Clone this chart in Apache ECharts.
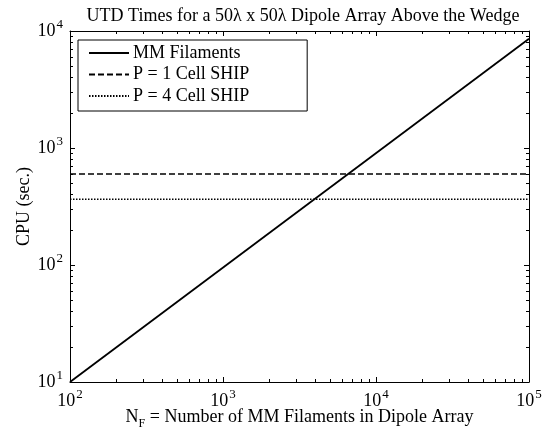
<!DOCTYPE html>
<html>
<head>
<meta charset="utf-8">
<script src="https://cdn.jsdelivr.net/npm/echarts@6/dist/echarts.min.js"></script>
<style>
  html, body { margin: 0; padding: 0; background: #fff; }
  #chart { width: 542px; height: 437px; }
</style>
</head>
<body>
<div id="chart"></div>
<script>
// 数据
const filamentsX = [100, 100000]
const mmFilaments = [10, 8600]
const ship1Cell = [600, 600]
const ship4Cell = [365, 365]
const seriesNames = ['MM Filaments', 'P = 1 Cell SHIP', 'P = 4 Cell SHIP']
const xDecades = [100, 1000, 10000, 100000]
const yDecades = [10, 100, 1000, 10000]

// 对数轴的次刻度 2..9
const minorTicks = (decades) => {
  const out = []
  for (let i = 0; i < decades.length - 1; i++) {
    for (let k = 2; k <= 9; k++) out.push(decades[i] * k)
  }
  return out
}
const xMinor = minorTicks(xDecades)
const yMinor = minorTicks(yDecades)

const font = 'Liberation Serif'
const black = '#000'

const supLabel = {
  color: black,
  fontFamily: font,
  fontSize: 18,
  formatter: (val) => `10{sup|${Math.round(Math.log10(val))}}`,
  rich: {
    sup: {fontFamily: font, fontSize: 13, color: black, verticalAlign: 'bottom', padding: [0, 0, 13, 1]}
  }
}

const logAxis = (extra) => Object.assign({
  type: 'log',
  logBase: 10,
  splitLine: {show: false},
  axisLine: {show: true, onZero: false, lineStyle: {color: black, width: 1}},
  axisTick: {show: true, inside: true, length: 5, lineStyle: {color: black}},
  axisLabel: {show: false},
}, extra)

const tickOnly = (pos, values, len) => ({
  position: pos,
  axisLine: {show: false},
  axisTick: {show: true, inside: true, length: len, customValues: values, lineStyle: {color: black}},
  axisLabel: {show: false},
})

const chart = echarts.init(document.getElementById('chart'))
const pairs = (ys) => filamentsX.map((x, i) => [x, ys[i]])

const option = {
  backgroundColor: '#fff',
  animation: false,
  title: {
    text: 'UTD Times for a 50λ x 50λ Dipole Array Above the Wedge',
    left: 298,
    top: 2,
    textAlign: 'center',
    textStyle: {fontFamily: font, fontSize: 18, fontWeight: 'normal', color: black}
  },
  grid: {left: 70, right: 13, top: 31, bottom: 55, outerBoundsMode: 'none', containLabel: false},
  legend: {
    orient: 'vertical',
    left: 78,
    top: 40,
    padding: [4, 58, 6, 10],
    itemGap: 3.5,
    itemWidth: 40,
    itemHeight: 18,
    borderColor: black,
    borderWidth: 1,
    backgroundColor: '#fff',
    data: seriesNames,
    itemStyle: {opacity: 0},
    textStyle: {fontFamily: font, fontSize: 18, color: black, padding: [0, 0, 0, -1]}
  },
  xAxis: [
    logAxis({
      min: 100, max: 100000, position: 'bottom',
      axisLabel: Object.assign({show: true, margin: 6}, supLabel),
      name: 'N{sub|F} = Number of MM Filaments in Dipole Array',
      nameLocation: 'middle',
      nameGap: 22,
      nameMoveOverlap: false,
      nameTextStyle: {
        fontFamily: font, fontSize: 18, color: black,
        rich: {sub: {fontFamily: font, fontSize: 12, color: black, verticalAlign: 'top', padding: [14, 0, 0, 0]}}
      }
    }),
    logAxis(Object.assign({min: 100, max: 100000}, tickOnly('bottom', xMinor, 3))),
    logAxis({min: 100, max: 100000, position: 'top'}),
    logAxis(Object.assign({min: 100, max: 100000}, tickOnly('top', xMinor, 3)))
  ],
  yAxis: [
    logAxis({
      min: 10, max: 10000, position: 'left',
      axisLabel: Object.assign({show: true, margin: 7}, supLabel),
      name: 'CPU (sec.)',
      nameLocation: 'middle',
      nameGap: 37,
      nameMoveOverlap: false,
      nameTextStyle: {fontFamily: font, fontSize: 18, color: black}
    }),
    logAxis(Object.assign({min: 10, max: 10000}, tickOnly('left', yMinor, 3))),
    logAxis({min: 10, max: 10000, position: 'right'}),
    logAxis(Object.assign({min: 10, max: 10000}, tickOnly('right', yMinor, 3)))
  ],
  series: [
    {
      name: seriesNames[0], type: 'line', symbol: 'none',
      lineStyle: {color: black, width: 1.8, type: 'solid'},
      itemStyle: {color: black},
      data: pairs(mmFilaments)
    },
    {
      name: seriesNames[1], type: 'line', symbol: 'none',
      lineStyle: {color: black, width: 1.6, type: [6, 3]},
      itemStyle: {color: black},
      data: pairs(ship1Cell)
    },
    {
      name: seriesNames[2], type: 'line', symbol: 'none',
      lineStyle: {color: black, width: 1.6, type: [1.5, 1.5]},
      itemStyle: {color: black},
      data: pairs(ship4Cell)
    }
  ]
}
chart.setOption(option)
</script>
</body>
</html>
